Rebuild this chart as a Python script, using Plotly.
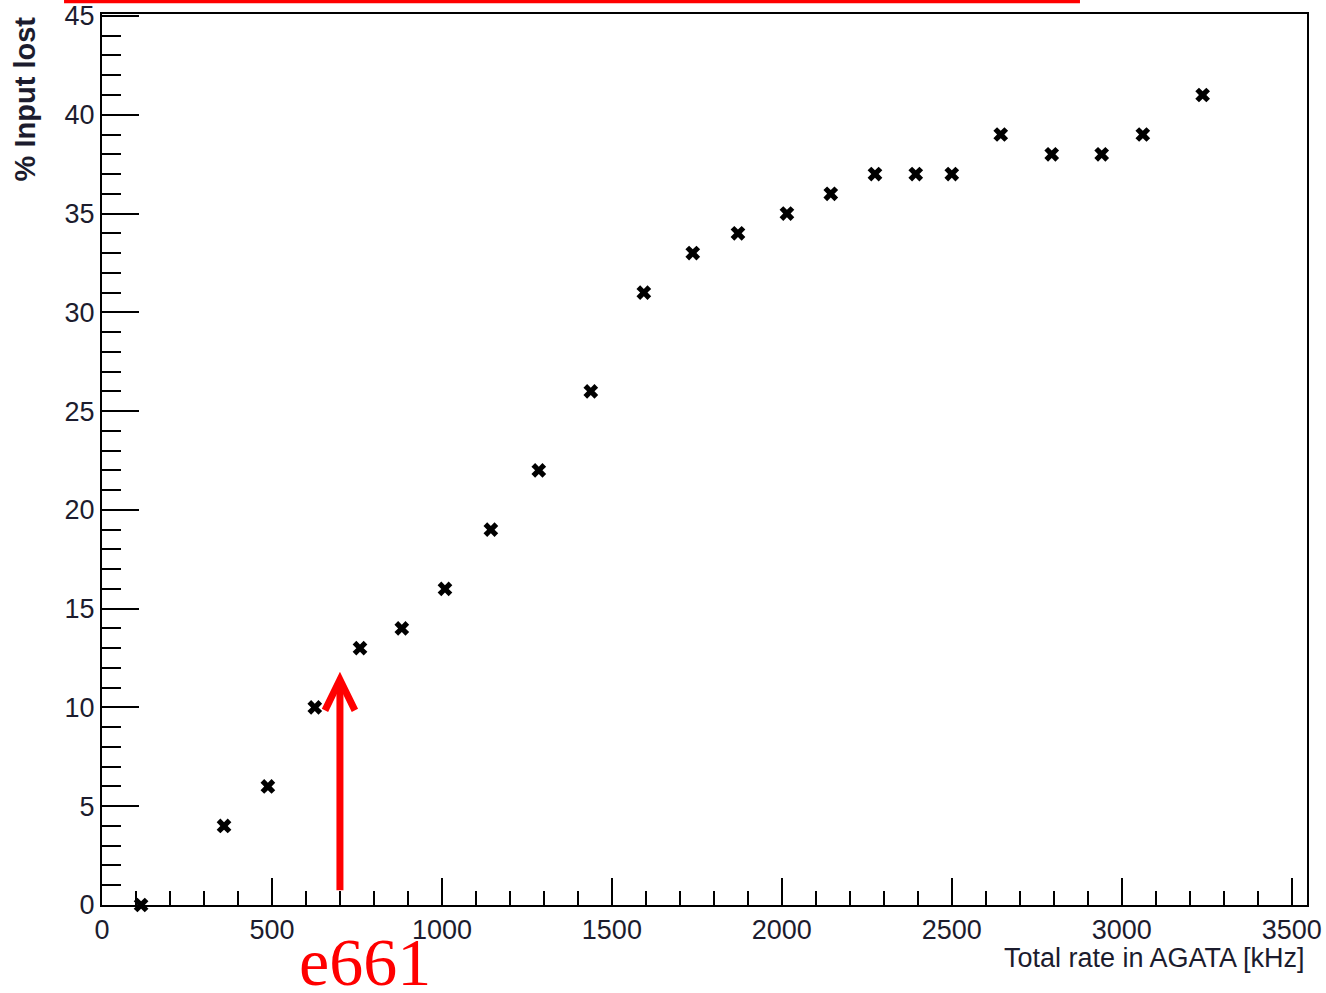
import plotly.graph_objects as go

# Data
rate_khz = [115, 359, 488, 626, 759, 882, 1009, 1144, 1285, 1438, 1594, 1738,
            1871, 2015, 2144, 2274, 2394, 2500, 2644, 2794, 2941, 3062, 3238]
input_lost_pct = [0, 4, 6, 10, 13, 14, 16, 19, 22, 26, 31, 33,
                  34, 35, 36, 37, 37, 37, 39, 38, 38, 39, 41]
x_ticks = [0, 500, 1000, 1500, 2000, 2500, 3000, 3500]
y_ticks = [0, 5, 10, 15, 20, 25, 30, 35, 40, 45]
e661_rate = 700
x_title = "Total rate in AGATA [kHz]"
y_title = "% Input lost"
marker_label = "e661"

SANS = "Liberation Sans, Arial, sans-serif"
RED = "#ff0000"
TXT = "#1c1c2e"

fig = go.Figure()
fig.add_trace(go.Scatter(
    x=rate_khz, y=input_lost_pct, mode="markers",
    marker=dict(symbol="x", size=13, color="black", line=dict(width=0)),
    showlegend=False, cliponaxis=False,
))

axis_common = dict(showgrid=False, zeroline=False, showline=True, linecolor="black",
                   linewidth=2, mirror=True, ticks="inside", tickcolor="black",
                   tickwidth=2, automargin=False, ticklabeloverflow="allow",
                   tickfont=dict(family=SANS, size=27, color=TXT))

fig.update_xaxes(range=[0, 3545], tickvals=x_ticks, ticklen=27,
                 minor=dict(dtick=100, tick0=0, ticklen=14, tickwidth=2, tickcolor="black", ticks="inside"),
                 **axis_common)
fig.update_yaxes(range=[0, 45.1], tickvals=y_ticks, ticklen=37,
                 minor=dict(dtick=1, tick0=0, ticklen=19, tickwidth=2, tickcolor="black", ticks="inside"),
                 **axis_common)

# Axis titles as annotations (ROOT style: right/top aligned)
fig.add_annotation(text=x_title, xref="paper", yref="paper", x=1.0, y=-0.059,
                   xanchor="right", yanchor="middle", showarrow=False,
                   font=dict(family=SANS, size=27, color=TXT))
fig.add_annotation(text="<b>" + y_title + "</b>", xref="paper", yref="paper", x=-0.064, y=1.0,
                   xanchor="center", yanchor="top", textangle=-90, showarrow=False,
                   font=dict(family=SANS, size=29, color=TXT))

# Red annotation arrow at e661 rate
tip_y, arm_y, base_y, arm_dx = 11.4, 9.85, 0.75, 44
fig.add_shape(type="line", x0=e661_rate, x1=e661_rate, y0=base_y, y1=tip_y - 0.2,
              line=dict(color=RED, width=7), xref="x", yref="y")
fig.add_shape(type="path",
              path=f"M {e661_rate - arm_dx},{arm_y} L {e661_rate},{tip_y} L {e661_rate + arm_dx},{arm_y}",
              line=dict(color=RED, width=7), xref="x", yref="y")
fig.add_annotation(text=marker_label, xref="paper", yref="paper", x=0.218, y=-0.064,
                   xanchor="center", yanchor="middle", showarrow=False,
                   font=dict(family="Liberation Serif, Times New Roman, serif", size=68, color=RED))

# Red line along the top edge
fig.add_shape(type="line", xref="paper", yref="paper", x0=-0.0315, x1=0.8116, y0=1.0143, y1=1.0143,
              line=dict(color=RED, width=4))

fig.update_layout(width=1326, height=993, plot_bgcolor="white", paper_bgcolor="white",
                  margin=dict(l=102, r=19, t=14, b=88))

fig.write_html("out.html", config={"displayModeBar": False},
               post_script="document.body.style.margin='0';document.body.style.overflow='hidden';")
